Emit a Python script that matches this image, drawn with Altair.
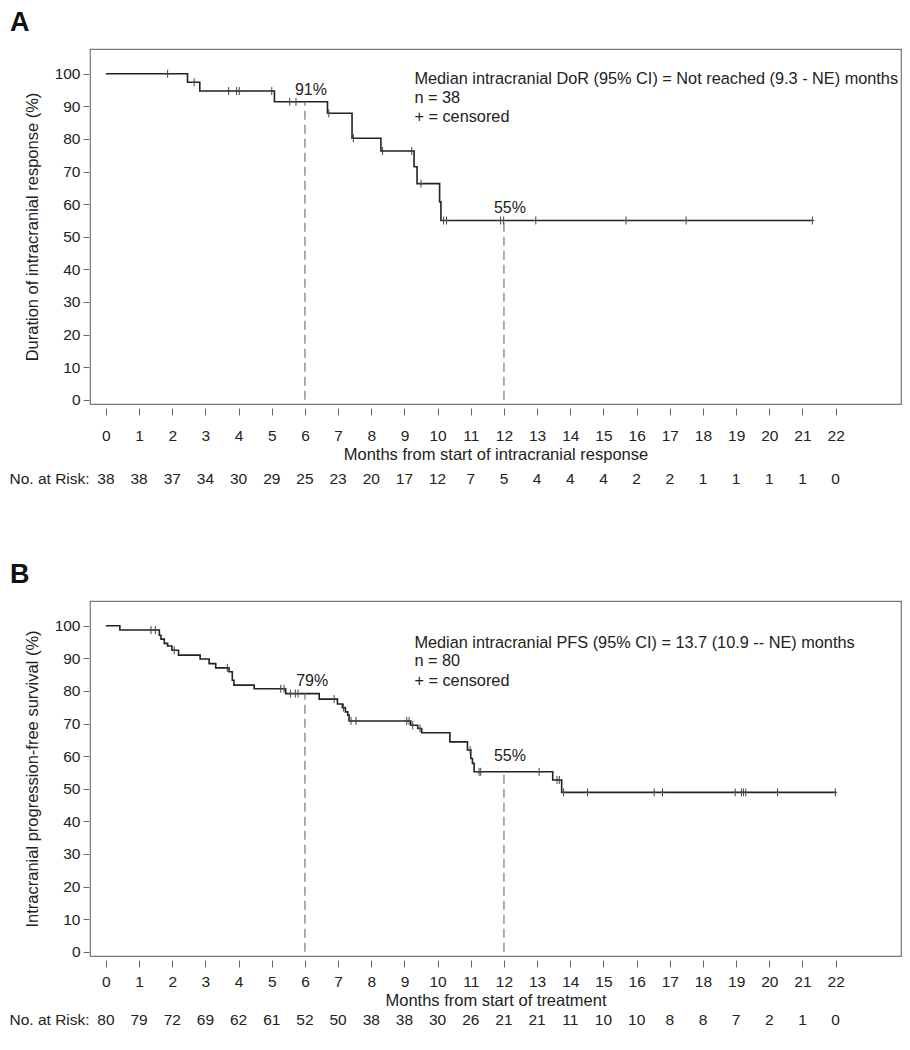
import altair as alt
import pandas as pd
import numpy as np

FONT = "Liberation Sans"

# ---------------- Panel A data ----------------
A_step_t = [0, 2.46, 2.83, 5.08, 6.68, 7.42, 8.29, 9.29, 9.38, 10.06, 10.10, 21.3]
A_step_s = [100, 97.4, 94.7, 91.4, 87.9, 80.2, 76.3, 71.5, 66.3, 60.7, 55.0, 55.0]
A_cens_t = [1.86, 2.66, 3.70, 3.94, 4.02, 5.0, 5.54, 5.73, 6.72, 7.46, 8.34, 9.22,
            9.50, 10.18, 10.27, 11.90, 11.99, 12.96, 15.68, 17.49, 21.3]
A_risk = [38, 38, 37, 34, 30, 29, 25, 23, 20, 17, 12, 7, 5, 4, 4, 4, 2, 2, 1, 1, 1, 1, 0]
A_pct_labels = ["91%", "55%"]
A_pct_x = [6.18, 12.18]
A_pct_y = [95.0, 58.7]
A_dash_x = [6, 12]
A_dash_y = [91.4, 55.0]
A_annot = ["Median intracranial DoR (95% CI) = Not reached (9.3 - NE) months",
           "n = 38", "+ = censored"]
A_annot_y = [98.3, 92.5, 86.6]
A_ytitle = "Duration of intracranial response (%)"
A_xtitle = "Months from start of intracranial response"

# ---------------- Panel B data ----------------
B_step_t = [0, 0.42, 1.61, 1.66, 1.76, 1.86, 1.99, 2.19, 2.84, 3.11, 3.31, 3.71, 3.81,
            3.86, 4.47, 5.42, 6.43, 6.98, 7.13, 7.22, 7.29, 7.33, 9.19, 9.40, 9.52,
            10.37, 10.90, 11.00, 11.05, 11.10, 13.47, 13.74, 22.0]
B_step_s = [100, 98.7, 97.1, 95.9, 94.6, 93.8, 92.5, 91.0, 89.8, 88.4, 87.1, 85.9, 83.3,
            81.8, 80.7, 79.2, 77.5, 76.0, 74.9, 73.6, 72.6, 70.8, 69.5, 68.5, 67.2,
            64.4, 61.9, 59.3, 57.8, 55.2, 52.7, 48.9, 48.9]
B_cens_t = [1.36, 1.49, 2.06, 3.66, 5.27, 5.37, 5.56, 5.71, 5.79, 6.88, 7.16, 7.39, 7.54,
            9.07, 9.14, 9.25, 9.47, 10.98, 11.25, 11.30, 13.06, 13.60, 13.67, 13.80,
            14.52, 16.53, 16.78, 18.97, 19.16, 19.22, 19.29, 20.25, 21.99]
B_risk = [80, 79, 72, 69, 62, 61, 52, 50, 38, 38, 30, 26, 21, 21, 11, 10, 10, 8, 8, 7, 2, 1, 0]
B_pct_labels = ["79%", "55%"]
B_pct_x = [6.22, 12.18]
B_pct_y = [83.1, 60.1]
B_dash_x = [6, 12]
B_dash_y = [79.2, 55.2]
B_annot = ["Median intracranial PFS (95% CI) = 13.7 (10.9 -- NE) months",
           "n = 80", "+ = censored"]
B_annot_y = [94.8, 89.2, 83.1]
B_ytitle = "Intracranial progression-free survival (%)"
B_xtitle = "Months from start of treatment"

MONTHS = list(range(0, 23))
YTICKS = list(range(0, 101, 10))

W, H = 811, 355
XDOM = [-0.48, 23.97]
YDOM = [-1.3, 107.6]
CURVE = "#222222"


def km_at(step_t, step_s, t):
    idx = np.searchsorted(np.array(step_t), t, side="right") - 1
    return [float(step_s[i]) for i in idx]


def panel(letter, step_t, step_s, cens_t, risk, pct_labels, pct_x, pct_y,
          dash_x, dash_y, annot, annot_y, ytitle, xtitle, risk_y, xlabpad, xtitlepad):
    xs = alt.Scale(domain=XDOM, nice=False, zero=False)
    ys = alt.Scale(domain=YDOM, nice=False, zero=False)

    xaxis = alt.Axis(values=MONTHS, title=xtitle, grid=False, domain=False,
                     offset=4, tickSize=7, tickColor="#666", labelPadding=xlabpad,
                     labelFontSize=15.5, labelColor="#222", labelFont=FONT,
                     labelOverlap=False, labelFlush=False, labelSeparation=0,
                     format="d",
                     titleFont=FONT, titleFontSize=16.5, titleFontWeight="normal",
                     titleColor="#222", titlePadding=xtitlepad)
    yaxis = alt.Axis(values=YTICKS, title=ytitle, grid=False, domain=False,
                     offset=1, tickSize=6, tickColor="#666", labelPadding=3,
                     labelFontSize=15.5, labelColor="#222", labelFont=FONT,
                     labelOverlap=False, labelSeparation=0, format="d",
                     titleFont=FONT, titleFontSize=16.5, titleFontWeight="normal",
                     titleColor="#222", titlePadding=14)

    curve_df = pd.DataFrame({"t": step_t, "s": step_s})
    cens_df = pd.DataFrame({"t": cens_t, "s": km_at(step_t, step_s, cens_t)})
    dash_df = pd.DataFrame({"t": dash_x, "s": dash_y, "z": [0, 0]})
    pct_df = pd.DataFrame({"t": pct_x, "s": pct_y, "label": pct_labels})
    ann_df = pd.DataFrame({"t": [9.3] * len(annot), "s": annot_y, "label": annot})
    risk_df = pd.DataFrame({"t": MONTHS, "n": [str(v) for v in risk]})

    def X(f="t:Q"):
        return alt.X(f, scale=xs, axis=xaxis)

    def Y(f="s:Q"):
        return alt.Y(f, scale=ys, axis=yaxis)

    line = alt.Chart(curve_df).mark_line(interpolate="step-after", color=CURVE,
                                         strokeWidth=1.6).encode(x=X(), y=Y())
    cens = alt.Chart(cens_df).mark_point(shape="M0,-1L0,1M-0.5,0L0.5,0", size=64,
                                         filled=False, color="#444",
                                         strokeWidth=1, opacity=1).encode(
        x=X(), y=Y())
    dash = alt.Chart(dash_df).mark_rule(color="#777", strokeWidth=1.2,
                                        strokeDash=[9, 5]).encode(
        x=X(), y=Y("z:Q"), y2="s:Q")
    pct = alt.Chart(pct_df).mark_text(font=FONT, fontSize=16, color="#222",
                                      align="center", baseline="middle").encode(
        x=X(), y=Y(), text="label:N")
    ann = alt.Chart(ann_df).mark_text(font=FONT, fontSize=16.3, color="#222",
                                      align="left", baseline="middle").encode(
        x=X(), y=Y(), text="label:N")
    risk_t = alt.Chart(risk_df).mark_text(font=FONT, fontSize=15.5, color="#222",
                                          align="center", baseline="middle").encode(
        x=X(), y=alt.value(risk_y), text="n:N")
    risk_lab = alt.Chart(pd.DataFrame({"label": ["No. at Risk:"]})).mark_text(
        font=FONT, fontSize=15.5, color="#222", align="left", baseline="middle").encode(
        x=alt.value(-80.5), y=alt.value(risk_y), text="label:N")
    let = alt.Chart(pd.DataFrame({"label": [letter]})).mark_text(
        font=FONT, fontSize=27, fontWeight="bold", color="#111", align="left",
        baseline="alphabetic").encode(
        x=alt.value(-80), y=alt.value(-18), text="label:N")

    return alt.layer(line, dash, cens, pct, ann, risk_t, risk_lab, let).properties(
        width=W, height=H)


pA = panel("A", A_step_t, A_step_s, A_cens_t, A_risk, A_pct_labels, A_pct_x, A_pct_y,
           A_dash_x, A_dash_y, A_annot, A_annot_y, A_ytitle, A_xtitle, 430, 13, 3)
pB = panel("B", B_step_t, B_step_s, B_cens_t, B_risk, B_pct_labels, B_pct_x, B_pct_y,
           B_dash_x, B_dash_y, B_annot, B_annot_y, B_ytitle, B_xtitle, 419, 7, 3)

chart = alt.vconcat(pA, pB, spacing=197, bounds="flush").properties(
    padding=0, background="white"
).configure_view(stroke="#777", strokeWidth=1.2).configure_axis(labelOverlap=False)

chart.save("out.html", embed_options={"renderer": "svg", "actions": False})
